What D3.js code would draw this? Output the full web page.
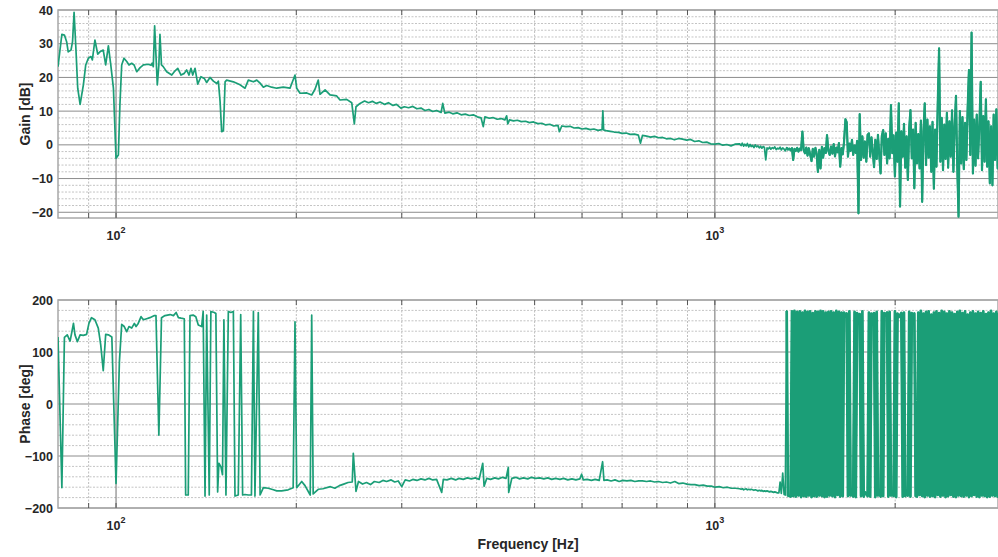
<!DOCTYPE html>
<html>
<head>
<meta charset="utf-8">
<script src="https://cdn.jsdelivr.net/npm/d3@7"></script>
<style>
  html, body { margin: 0; padding: 0; background: #fff; }
  svg { display: block; font-family: "Liberation Sans", Arial, Helvetica, sans-serif; }
</style>
</head>
<body>
<svg></svg>
<script>
// ---- data ----
// low frequency part, gain
const gainFreq = [
  80, 81.2, 82, 82.7, 83.2, 84.1, 84.6, 85.1, 85.7, 86.3,
  87.1, 88.2, 89, 89.9, 90.8, 91.3, 92.2, 93.2, 94, 95.2,
  96.1, 97.1, 98, 99, 100, 100.9, 101.5, 102.2, 103.1, 104.2,
  105.1, 106.2, 107.2, 108.3, 109.7, 111.1, 113.2, 114.4, 114.9, 115.4,
  116, 117.2, 117.9, 118.4, 119.1, 119.9, 121.5, 123.9, 125.1, 126.8,
  128.4, 130, 131.2, 132.4, 133.4, 134.3, 135.5, 136.9, 138.6, 140.4,
  141.7, 143.5, 145.4, 147.3, 148.2, 149.2, 150.1, 151.1, 152.1, 153,
  157, 161.1, 164.2, 166.3, 169.6, 171.8, 174, 176.2, 178.5, 181.9,
  185.5, 190.2, 195.2, 199, 200.3, 202.9, 208.2, 212.2, 214.9, 217.6,
  219.1, 223.4, 227.7, 233.6, 236.6, 242.7, 247.5, 250, 251.6, 255.5,
  260, 264, 268, 272, 276, 281, 285, 290, 294, 299,
  303, 308, 313, 318, 323, 328, 333, 338, 343, 349,
  351.2, 354, 360, 365, 371, 377, 383, 389, 395, 401,
  407, 410.4, 413, 420, 426, 433, 440, 446, 449, 451,
  454, 461, 468, 475, 483, 490, 498, 506, 514, 522,
  530, 538, 547, 550, 555, 564, 573, 582, 591, 600,
  609, 619, 628, 638, 648, 650, 652, 658, 669, 679,
  690, 700, 711, 722, 734, 745, 751, 757, 769, 781,
  793, 805, 818, 830, 843, 856, 870, 883, 897, 911,
  925, 940, 954, 969, 984, 1000, 1015, 1031, 1047, 1064,
  1080
];
const gainDb = [
  23.2, 32.8, 32.6, 30.6, 27.6, 28.1, 30.6, 39.3, 28.6, 16.8,
  12.0, 17.8, 23.7, 25.7, 26.2, 25.2, 31.1, 26.9, 27.6, 28.1,
  23.7, 29.4, 23.7, 16.8, -4.0, -3.0, 11.8, 23.7, 25.7, 24.7,
  23.7, 24.2, 23.7, 21.7, 22.9, 23.7, 23.9, 23.6, 24.2, 23.2,
  35.3, 17.8, 23.7, 32.8, 23.7, 23.2, 21.7, 20.7, 21.7, 22.7,
  20.7, 21.2, 22.2, 20.7, 22.7, 20.7, 22.7, 18.0, 20.2, 19.7,
  18.5, 20.0, 18.9, 18.2, 18.9, 12.8, 3.9, 4.2, 18.7, 19.2,
  18.7, 17.8, 16.8, 19.2, 18.7, 19.2, 18.3, 17.1, 17.6, 17.1,
  16.8, 17.1, 16.8, 20.7, 16.8, 15.3, 15.4, 14.8, 16.5, 19.2,
  15.0, 16.3, 14.8, 14.5, 13.3, 13.5, 12.5, 6.2, 11.3, 12.3,
  13.0, 12.5, 12.9, 12.3, 12.7, 12.0, 12.5, 11.7, 12.0, 10.9,
  11.3, 11.0, 11.4, 10.7, 10.9, 10.2, 10.5, 9.9, 10.2, 9.6,
  12.3, 9.4, 9.7, 9.2, 9.5, 8.9, 9.1, 8.7, 8.9, 8.3,
  8.0, 5.4, 8.3, 7.9, 8.1, 7.6, 7.8, 7.4, 8.6, 6.2,
  7.4, 7.1, 7.3, 6.9, 7.0, 6.6, 6.8, 6.3, 6.4, 5.9,
  6.1, 5.6, 5.8, 3.9, 5.6, 5.4, 5.5, 5.0, 5.1, 4.7,
  4.9, 4.5, 4.7, 4.3, 4.5, 10.1, 4.4, 4.2, 4.0, 3.8,
  3.7, 3.4, 3.5, 3.1, 3.2, 2.9, 0.5, 2.8, 2.6, 2.3,
  2.5, 2.1, 2.2, 1.8, 1.9, 1.5, 1.9, 1.7, 1.4, 1.6,
  1.0, 1.2, 0.7, 0.8, 0.3, 0.2, 0.4, -0.1, 0.1, -0.3,
  0.2
];

// low frequency part, phase
const phaseFreq = [
  80, 81.2, 82, 82.9, 83.8, 84.3, 84.9, 85.4, 86.2, 87.1,
  88.2, 89.3, 90.1, 91, 92.2, 93.4, 94.3, 95.2, 96.1, 97.1,
  98.4, 100, 101.3, 102.2, 103.2, 104.2, 105.1, 106.2, 107.3, 108,
  108.9, 110.1, 111.1, 112.5, 113.9, 115.9, 116.6, 117.9, 119.1, 120.7,
  123.1, 124.7, 126, 127.1, 128.4, 130, 130.7, 132, 132.9, 134.5,
  135.9, 137.2, 139, 139.8, 140.8, 141.7, 143.1, 144, 145.9, 146.8,
  147.8, 148.5, 149.7, 150.6, 151.4, 152.6, 154, 155.5, 157, 158,
  160, 161.5, 162.7, 164.2, 166.3, 168.3, 169.6, 170.6, 172.8, 174,
  176.2, 179.6, 183.1, 185.5, 189, 193.8, 197.6, 199, 200.3, 204.2,
  206.8, 211, 212.2, 213.4, 217.6, 221.5, 228, 232, 236, 240,
  244, 248, 249, 251.6, 254, 258, 262, 266, 270, 275,
  279, 283, 288, 292, 296, 300, 304, 309, 313, 318,
  323, 328, 333, 338, 343, 349.8, 352, 357, 363, 369,
  374, 380, 386, 392, 398, 404, 409.6, 411.7, 416, 422,
  429, 435, 442, 448, 451.9, 452.6, 458, 465, 472, 479,
  487, 494, 502, 510, 518, 526, 534, 542, 551, 559,
  568, 577, 586, 595, 599, 603, 612, 622, 631, 641,
  649.4, 652.7, 661, 671, 681, 692, 702, 713, 724, 735,
  746, 757, 769, 781, 793, 805, 818, 830, 843, 857,
  870, 884, 898, 912, 926, 941, 956, 971, 986, 1001,
  1017, 1033, 1049, 1065, 1082
];
const phaseDeg = [
  129, -161, 128, 133, 121, 136, 155, 133, 120, 133,
  132, 134, 155, 166, 162, 146, 113, 64, 134, 133,
  129, -153, 81, 153, 149, 139, 149, 146, 155, 149,
  155, 168, 162, 164, 166, 170, 170, -60, 166, 170,
  172, 170, 176, 166, 165, 164, -175, -175, 170, 171,
  168, 152, 149, 178, -177, 171, -175, 178, 176, 174,
  -169, -114, -121, -136, 162, -175, 178, 176, 178, -177,
  -175, 172, -175, -174, -175, -175, 178, -177, 176, -175,
  -161, -162, -165, -167, -167, -165, -161, 158, -161, -149,
  -157, -175, 171, -173, -164, -163, -159, -162, -157, -154,
  -151, -150, -95, -168, -149, -154, -151, -155, -149, -151,
  -147, -149, -146, -150, -148, -159, -146, -148, -145, -147,
  -144, -146, -143, -146, -145, -170, -145, -146, -143, -146,
  -143, -145, -142, -144, -142, -145, -114, -158, -143, -145,
  -142, -144, -141, -143, -122, -170, -143, -141, -144, -142,
  -144, -141, -143, -142, -144, -142, -145, -143, -145, -143,
  -146, -144, -146, -144, -135, -146, -145, -147, -145, -147,
  -111, -147, -146, -148, -146, -149, -147, -148, -147, -149,
  -148, -148, -149, -148, -150, -149, -151, -150, -152, -149,
  -153, -152, -154, -155, -155, -157, -156, -158, -158, -160,
  -159, -161, -160, -162, -162
];

// high frequency part (dense), shared frequency grid
const hiFreq = [
  1100, 1106, 1111, 1117, 1122, 1128, 1133, 1139, 1145, 1150,
  1156, 1162, 1168, 1174, 1180, 1186, 1192, 1198, 1204, 1210,
  1216, 1222, 1228, 1234, 1240, 1247, 1253, 1259, 1266, 1272,
  1279, 1285, 1291, 1298, 1305, 1311, 1318, 1324, 1331, 1338,
  1345, 1351, 1358, 1365, 1372, 1379, 1386, 1393, 1400, 1407,
  1414, 1421, 1428, 1435, 1442, 1450, 1457, 1464, 1472, 1479,
  1486, 1494, 1501, 1509, 1516, 1524, 1532, 1539, 1547, 1555,
  1563, 1571, 1579, 1587, 1595, 1603, 1611, 1619, 1627, 1635,
  1643, 1652, 1660, 1668, 1677, 1685, 1694, 1702, 1711, 1719,
  1728, 1737, 1745, 1754, 1763, 1772, 1781, 1790, 1799, 1808,
  1817, 1826, 1835, 1844, 1853, 1863, 1872, 1881, 1891, 1900,
  1910, 1919, 1929, 1939, 1948, 1958, 1968, 1978, 1988, 1998,
  2008, 2018, 2028, 2038, 2048, 2059, 2069, 2079, 2090, 2100,
  2111, 2121, 2132, 2143, 2153, 2164, 2175, 2186, 2197, 2208,
  2219, 2230, 2241, 2252, 2264, 2275, 2286, 2298, 2309, 2321,
  2332, 2344, 2356, 2368, 2380, 2392, 2404, 2416, 2428, 2440,
  2452, 2464, 2477, 2489, 2502, 2514, 2527, 2539, 2552, 2565,
  2578, 2591, 2604, 2617, 2630, 2643, 2656, 2670, 2683, 2697,
  2710, 2724, 2737, 2751, 2765, 2779, 2793, 2807, 2821, 2835,
  2849, 2863, 2878, 2892, 2907, 2921, 2936, 2951, 2966, 2981
];
const hiGainDb = [
  0.3, -0.2, 0.5, -0.4, 0.2, -0.3, 0.4, -0.6, 0.1, -0.5,
  -0.2, -0.8, 0.0, -0.6, -0.3, -0.9, -0.4, -1.0, -0.5, -0.8,
  -4.5, -0.9, -1.2, -0.7, -1.3, -0.8, -1.1, -0.6, -1.4, -1.0,
  -1.2, -0.7, -1.5, -0.9, -1.3, -1.8, -0.8, -1.4, -1.1, -1.6,
  -1.0, -4.5, -1.2, -1.8, -0.9, -2.0, -1.1, -1.5, 3.9, -1.6,
  -2.5, -0.8, -3.2, -1.0, -2.8, -4.8, -1.2, -3.5, -0.9, -2.6,
  -8.0, -1.5, -7.0, -0.6, -3.8, -1.0, -2.4, 2.9, -1.8, -3.0,
  -0.5, -2.6, 0.2, -3.4, -0.8, -2.2, 0.5, -6.5, -1.0, -2.8,
  0.8, 7.6, 6.7, -3.5, 0.4, -1.8, 1.5, -3.0, -0.2, -2.4,
  1.2, -20.3, 9.1, -4.5, 2.5, -3.8, 1.0, -5.0, 3.0, 3.4,
  -3.5, 2.2, -2.0, -6.6, 1.5, -4.2, 3.0, -2.8, -8.5, 2.6,
  4.4, -3.0, 3.4, -5.5, 1.8, -4.0, 11.8, -2.5, 2.8, -9.4,
  3.6, -5.0, 12.3, -18.3, 4.0, -3.5, 6.2, -6.8, 2.5, -10.4,
  5.0, 10.3, -4.0, 4.5, -12.9, 6.5, -5.5, 3.2, -7.0, 7.2,
  -16.9, 4.0, 12.3, -6.0, 7.5, -3.8, 5.5, -8.0, 6.8, -13.0,
  4.5, -6.5, 12.5, 28.6, -5.0, 8.0, -7.5, 6.0, -4.2, 9.5,
  -6.8, 7.0, -3.5, 10.2, -8.0, 5.5, 14.5, -6.0, -21.3, 10.0,
  -5.5, 8.2, -7.2, 6.5, -4.5, 11.0, 22.2, -3.0, 33.3, -8.5,
  7.5, -6.2, 9.0, -4.0, 6.0, 18.7, -7.5, 8.5, -5.0, 13.5,
  -6.5, 7.0, -11.4, 5.5, -12.0, 9.0, -4.5, 10.5, -7.0, 3.0
];
const hiPhaseDeg = [
  -163, -164, -163, -165, -164, -163, -165, -164, -165, -164,
  -165, -166, -165, -166, -167, -166, -167, -166, -168, -167,
  -168, -167, -168, -169, -168, -169, -170, -169, -170, -171,
  -171, -150, -172, -133, -174, -175, 179, -176, -177, -178,
  178, -177, 179, -178, 177, -176, 178, -179, 176, -177,
  179, -178, 177, -176, 178, -179, 175, -177, 178, -178,
  177, -176, 179, -177, 178, -179, 176, -178, 177, -176,
  178, -177, 176, -179, 179, -175, 177, -178, 176, -177,
  176, 168, 174, -177, 178, -176, -168, -178, 177, -179,
  175, 165, 173, -177, 178, -178, -170, -172, -177, 176,
  -178, 174, 162, 175, -179, 177, -176, -166, -178, 178,
  -177, 175, 170, 176, -178, 177, -176, -169, -177, 178,
  -179, 174, 167, 171, 175, -178, 176, -177, -170, -176,
  177, -178, 175, 169, 174, -177, -178, 176, -175, 179,
  -177, 174, -179, 177, -176, 178, -178, 172, -177, 176,
  -179, 178, -175, 175, -178, 179, -176, 177, -179, 174,
  -177, 178, -175, 176, -178, 173, -179, 177, -176, 179,
  -177, 175, -178, 178, -176, 172, -179, 176, -177, 178,
  -175, 174, -178, 177, -179, 175, -176, 178, -177, 173,
  -179, 176, -178, 179, -176, 174, -177, 177, -178, 175
];

// axes
const freqRange = [80, 2970];
const decadeTicks = [100, 1000];
const freqMinorTicks = [90, 200, 300, 400, 500, 600, 700, 800, 900, 2000];
const gainRange = [-21.7, 40];
const gainTicks = [-20, -10, 0, 10, 20, 30, 40];
const gainMinorTicks = [-18, -16, -14, -12, -8, -6, -4, -2, 2, 4, 6, 8, 12, 14, 16, 18, 22, 24, 26, 28, 32, 34, 36, 38];
const phaseRange = [-200, 200];
const phaseTicks = [-200, -100, 0, 100, 200];
const phaseMinorTicks = [-180, -160, -140, -120, -80, -60, -40, -20, 20, 40, 60, 80, 120, 140, 160, 180];

// ---- layout ----
const width = 998;
const height = 557;
const marginLeft = 58;
const plotRight = 998;
const lineColor = "#1b9e77";
const textColor = "#262626";
const denseFrom = 1318; // above this the trace is so dense it reads as a filled band

let svg = d3.select("svg").attr("width", width).attr("height", height);

let scX = d3.scaleLog().domain(freqRange).range([marginLeft, plotRight]);

function toPoints(fs, vs) {
    return fs.map((f, i) => [f, vs[i]]);
}

function drawPanel(id, top, bottom, yRange, yTicks, yMinor, points, label, denseWidth) {
    let scY = d3.scaleLinear().domain(yRange).range([bottom, top]);
    let g = svg.append("g").attr("id", id);

    g.append("clipPath").attr("id", id + "-clip")
        .append("rect")
        .attr("x", marginLeft).attr("y", top - 1)
        .attr("width", plotRight - marginLeft).attr("height", bottom - top + 2);

    // minor grid, dotted
    g.selectAll(".hminor").data(yMinor).enter().append("line")
        .attr("x1", marginLeft).attr("x2", plotRight)
        .attr("y1", d => scY(d)).attr("y2", d => scY(d))
        .attr("stroke", "#c4c4c4").attr("stroke-width", 1)
        .attr("stroke-dasharray", "2,1.5");
    g.selectAll(".vminor").data(freqMinorTicks).enter().append("line")
        .attr("x1", d => scX(d)).attr("x2", d => scX(d))
        .attr("y1", top).attr("y2", bottom)
        .attr("stroke", "#bdbdbd").attr("stroke-width", 1)
        .attr("stroke-dasharray", "2,1.5");

    // major grid
    g.selectAll(".hmajor").data(yTicks).enter().append("line")
        .attr("x1", marginLeft).attr("x2", plotRight)
        .attr("y1", d => scY(d)).attr("y2", d => scY(d))
        .attr("stroke", "#8c8c8c").attr("stroke-width", 1);
    g.selectAll(".vmajor").data(decadeTicks).enter().append("line")
        .attr("x1", d => scX(d)).attr("x2", d => scX(d))
        .attr("y1", top).attr("y2", bottom)
        .attr("stroke", "#6e6e6e").attr("stroke-width", 1);

    // box
    g.append("rect")
        .attr("x", marginLeft).attr("y", top)
        .attr("width", plotRight - marginLeft).attr("height", bottom - top)
        .attr("fill", "none").attr("stroke", "#a8a8a8").attr("stroke-width", 1.5);

    // small x ticks top and bottom
    let allX = decadeTicks.concat(freqMinorTicks);
    g.selectAll(".xtickb").data(allX).enter().append("line")
        .attr("x1", d => scX(d)).attr("x2", d => scX(d))
        .attr("y1", bottom).attr("y2", bottom - 5)
        .attr("stroke", "#555").attr("stroke-width", 1);
    g.selectAll(".xtickt").data(allX).enter().append("line")
        .attr("x1", d => scX(d)).attr("x2", d => scX(d))
        .attr("y1", top).attr("y2", top + 5)
        .attr("stroke", "#555").attr("stroke-width", 1);

    // y tick labels
    let axisY = d3.axisLeft(scY).tickValues(yTicks).tickSize(0).tickPadding(5);
    let ax = g.append("g")
        .attr("transform", `translate(${marginLeft}, 0)`)
        .call(axisY);
    ax.select(".domain").remove();
    ax.selectAll("text")
        .style("font-family", "'Liberation Sans', Arial, sans-serif")
        .style("font-size", "12.5px")
        .style("font-weight", "bold")
        .attr("fill", textColor);

    // x tick labels 10^n
    let xl = g.selectAll(".xlab").data(decadeTicks).enter().append("text")
        .attr("x", d => scX(d)).attr("y", bottom + 22)
        .attr("text-anchor", "middle")
        .attr("fill", textColor)
        .style("font-size", "12.5px").style("font-weight", "bold");
    xl.append("tspan").text("10");
    xl.append("tspan").attr("dy", -7).style("font-size", "9px")
        .text(d => String(Math.round(Math.log10(d))));

    // y label
    g.append("text")
        .attr("transform", `translate(30, ${(top + bottom) / 2}) rotate(-90)`)
        .attr("text-anchor", "middle")
        .attr("fill", textColor)
        .style("font-size", "14px").style("font-weight", "bold")
        .text(label);

    // data line
    let line = d3.line().x(d => scX(d[0])).y(d => scY(d[1]));
    g.append("path")
        .datum(points)
        .attr("clip-path", `url(#${id}-clip)`)
        .attr("d", line)
        .attr("fill", "none")
        .attr("stroke", lineColor)
        .attr("stroke-width", 1.7)
        .attr("stroke-linejoin", "round");

    // dense part drawn a bit heavier so it fills like the real trace
    g.append("path")
        .datum(points.filter(d => d[0] >= denseFrom))
        .attr("clip-path", `url(#${id}-clip)`)
        .attr("d", line)
        .attr("fill", "none")
        .attr("stroke", lineColor)
        .attr("stroke-width", denseWidth)
        .attr("stroke-linejoin", "round");
}

let gainPoints = toPoints(gainFreq, gainDb).concat(toPoints(hiFreq, hiGainDb));
let phasePoints = toPoints(phaseFreq, phaseDeg).concat(toPoints(hiFreq, hiPhaseDeg));

drawPanel("gain", 10, 218, gainRange, gainTicks, gainMinorTicks, gainPoints, "Gain [dB]", 2.2);
drawPanel("phase", 300, 508, phaseRange, phaseTicks, phaseMinorTicks, phasePoints, "Phase [deg]", 2.7);

svg.append("text")
    .attr("x", (marginLeft + plotRight) / 2)
    .attr("y", 549)
    .attr("text-anchor", "middle")
    .attr("fill", textColor)
    .style("font-size", "14px").style("font-weight", "bold")
    .text("Frequency [Hz]");
</script>
</body>
</html>
